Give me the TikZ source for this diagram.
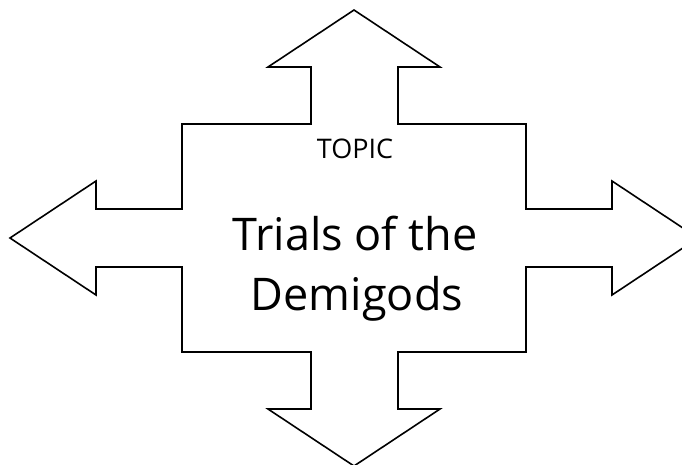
\documentclass[tikz,border=0pt]{standalone}
\usepackage{fontspec}
\setmainfont{Open Sans}
\usepackage{tikz}
\usetikzlibrary{positioning}
\tikzset{topiclabel/.style={inner sep=0pt, anchor=base, font=\fontsize{27}{32}\selectfont}}
\tikzset{titleline/.style={inner sep=0pt, anchor=base, font=\fontsize{45}{54}\selectfont}}

\begin{document}
\begin{tikzpicture}[x=1pt, y=-1pt]
                    \useasboundingbox (0, 0) rectangle (682, 464);
                    \clip (0, 0) rectangle (682, 464);

                    \draw[line width=1.6pt, line join=miter]
                    (354, 10) -- (440, 67) -- (398, 67) -- (398, 124) -- (526, 124)
                    -- (526, 209) -- (612, 209) -- (612, 181) -- (698, 238)
                    -- (612, 295) -- (612, 267) -- (526, 267) -- (526, 352)
                    -- (398, 352) -- (398, 409) -- (440, 409) -- (354, 466)
                    -- (268, 409) -- (311, 409) -- (311, 352) -- (182, 352)
                    -- (182, 267) -- (96, 267) -- (96, 295) -- (10, 238)
                    -- (96, 181) -- (96, 209) -- (182, 209) -- (182, 124)
                    -- (311, 124) -- (311, 67) -- (268, 67) -- cycle;

                    \node[topiclabel] (topic) at (355, 158) {TOPIC};
                    \node[titleline] (trials) at (355, 250) {Trials of the};
                    \node[titleline] (demigods) at (357, 310) {Demigods};
\end{tikzpicture}
\end{document}
